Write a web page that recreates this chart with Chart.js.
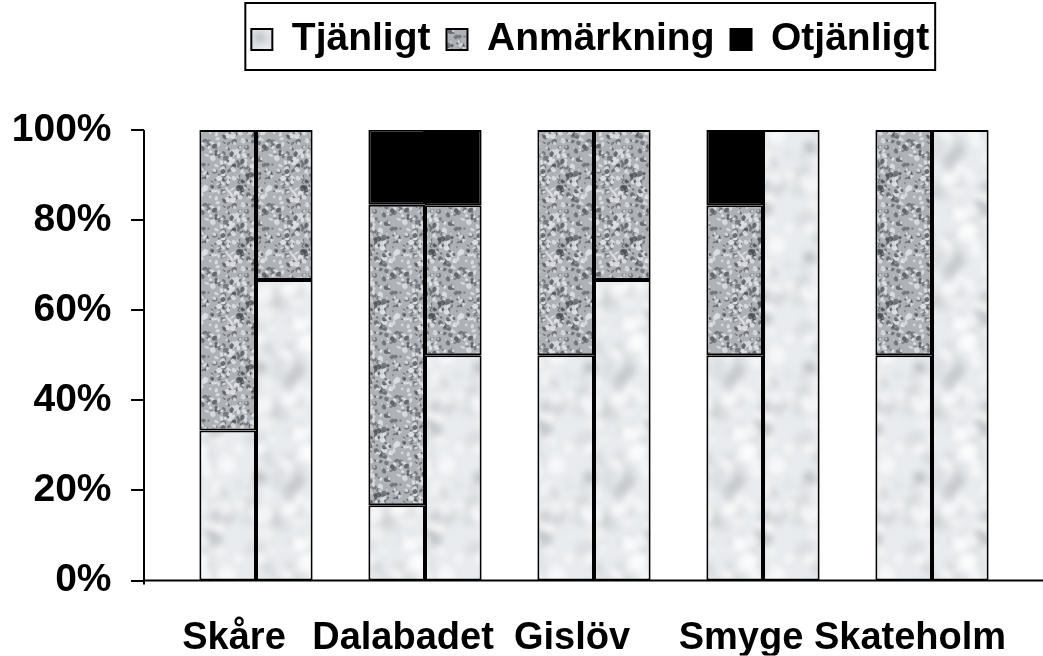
<!DOCTYPE html>
<html>
<head>
<meta charset="utf-8">
<script src="https://cdn.jsdelivr.net/npm/chart.js@4.4.1/dist/chart.umd.min.js"></script>
<style>
  html, body { margin: 0; padding: 0; background: #fff; }
  #wrap { width: 1043px; height: 656px; }
</style>
</head>
<body>
<div id="wrap"><canvas id="chart"></canvas></div>
<script>
// Badplatser, två provserier per plats (andel i %)
const categories = ['Skåre', 'Dalabadet', 'Gislöv', 'Smyge', 'Skateholm'];
const seriesNames = ['Tjänligt', 'Anmärkning', 'Otjänligt'];

// första stapeln i varje par
const tjanligt1 = [33.3, 16.7, 50, 50, 50];
const anmarkning1 = [66.7, 66.7, 50, 33.3, 50];
const otjanligt1 = [0, 16.7, 0, 16.7, 0];

// andra stapeln i varje par
const tjanligt2 = [66.7, 50, 66.7, 100, 100];
const anmarkning2 = [33.3, 33.3, 33.3, 0, 0];
const otjanligt2 = [0, 16.7, 0, 0, 0];

const yTicks = [0, 20, 40, 60, 80, 100];

const FONT = "'Liberation Sans', Arial, Helvetica, sans-serif";

// simple seeded generator so the texture looks the same every run
function seeded(seed) {
  let s = seed;
  return function() {
    s = (s * 16807) % 2147483647;
    return (s - 1) / 2147483646;
  };
}

// speckled texture, like the old Excel fill
function makeTexture(base, spots, seed, size, spotMin, spotMax, blur) {
  const c = document.createElement('canvas');
  c.width = size; c.height = size;
  const g = c.getContext('2d');
  g.fillStyle = base;
  g.fillRect(0, 0, size, size);
  if (blur) g.filter = 'blur(' + blur + 'px)';
  const rnd = seeded(seed);
  spots.forEach(sp => {
    g.fillStyle = sp.color;
    for (let i = 0; i < sp.count; i++) {
      const x = rnd() * size, y = rnd() * size;
      const r = spotMin + rnd() * (spotMax - spotMin);
      const ry = r * (0.35 + rnd() * 0.7), rot = rnd() * Math.PI;
      for (let dx = -size; dx <= size; dx += size) {
        for (let dy = -size; dy <= size; dy += size) {
          g.beginPath();
          g.ellipse(x + dx, y + dy, r, ry, rot, 0, Math.PI * 2);
          g.fill();
        }
      }
    }
  });
  return c;
}

const ctx = document.getElementById('chart').getContext('2d');

const lightTex = ctx.createPattern(makeTexture('#e9ecee', [
  { color: 'rgba(140,146,152,0.14)', count: 40 },
  { color: 'rgba(255,255,255,0.6)', count: 35 },
  { color: 'rgba(105,110,118,0.22)', count: 10 }
], 7, 110, 3, 10, 3), 'repeat');

const midTex = ctx.createPattern(makeTexture('#aeb2b7', [
  { color: 'rgba(105,109,115,0.8)', count: 110 },
  { color: 'rgba(222,225,229,0.85)', count: 120 },
  { color: 'rgba(70,74,80,0.7)', count: 35 }
], 13, 64, 1, 3, 0.7), 'repeat');

const fills = [lightTex, midTex, '#000000'];

function ds(label, data, stack, fill) {
  return {
    label: label,
    data: data,
    stack: stack,
    backgroundColor: fill,
    borderColor: '#000',
    borderWidth: 2,
    borderSkipped: false,
    categoryPercentage: 0.67,
    barPercentage: 1.0
  };
}

// legend takes up the whole band above the plot, shifted right like the original
const legendBand = {
  id: 'legendBand',
  afterInit(chart) {
    const lg = chart.legend;
    const fit = lg.fit;
    lg.fit = function() {
      fit.call(this);
      if (this.isHorizontal()) this.height = 126;
    };
  },
  afterLayout(chart) {
    chart.legend.left += 82;
    chart.legend.right += 82;
  }
};

// axis lines, tick marks and the box round the legend
const frame = {
  id: 'frame',
  afterDraw(chart) {
    const c = chart.ctx;
    const y = chart.scales.y;
    const axX = 144;
    const bottom = y.getPixelForValue(0);
    c.save();
    c.strokeStyle = '#000';
    c.lineWidth = 2;
    c.beginPath();
    c.moveTo(axX, y.getPixelForValue(100));
    c.lineTo(axX, bottom + 4);
    yTicks.forEach(v => {
      const py = Math.round(y.getPixelForValue(v));
      c.moveTo(131, py);
      c.lineTo(axX, py);
    });
    c.moveTo(axX, bottom);
    c.lineTo(chart.width, bottom);
    c.stroke();

    const boxes = chart.legend.legendHitBoxes;
    if (boxes && boxes.length) {
      const l = Math.min(...boxes.map(b => b.left)) - 6;
      const r = Math.max(...boxes.map(b => b.left + b.width)) + 6;
      c.lineWidth = 2;
      c.strokeRect(l, 3, r - l, 67);
    }
    c.restore();
  }
};

new Chart(ctx, {
  type: 'bar',
  data: {
    labels: categories,
    datasets: [
      ds(seriesNames[0], tjanligt1, 'a', fills[0]),
      ds(seriesNames[0], tjanligt2, 'b', fills[0]),
      ds(seriesNames[1], anmarkning1, 'a', fills[1]),
      ds(seriesNames[1], anmarkning2, 'b', fills[1]),
      ds(seriesNames[2], otjanligt1, 'a', fills[2]),
      ds(seriesNames[2], otjanligt2, 'b', fills[2])
    ]
  },
  options: {
    responsive: true,
    maintainAspectRatio: false,
    animation: false,
    layout: { padding: { top: 4, right: 26.5, bottom: 0, left: 0 } },
    plugins: {
      tooltip: { enabled: false },
      legend: {
        position: 'top',
        labels: {
          filter: item => item.datasetIndex % 2 === 0,
          color: '#000',
          font: { family: FONT, size: 39, weight: 'bold' },
          boxWidth: 21,
          boxHeight: 21,
          padding: 16
        }
      }
    },
    scales: {
      x: {
        stacked: true,
        border: { display: false },
        grid: { display: false },
        ticks: {
          color: '#000',
          font: { family: FONT, size: 38, weight: 'bold' },
          padding: 27,
          labelOffset: -22,
          maxRotation: 0,
          autoSkip: false
        },
        afterFit(scale) {
          scale.height = 75;
          scale.paddingLeft = 0;
          scale.paddingRight = 0;
        }
      },
      y: {
        stacked: true,
        min: 0,
        max: 100,
        border: { display: false },
        grid: { display: false },
        afterBuildTicks(scale) { scale.ticks = yTicks.map(v => ({ value: v })); },
        ticks: {
          color: '#000',
          font: { family: FONT, size: 39, weight: 'bold' },
          padding: 52,
          callback: v => v + '%'
        },
        afterFit(scale) { scale.width = 171.5; }
      }
    }
  },
  plugins: [legendBand, frame]
});
</script>
</body>
</html>
